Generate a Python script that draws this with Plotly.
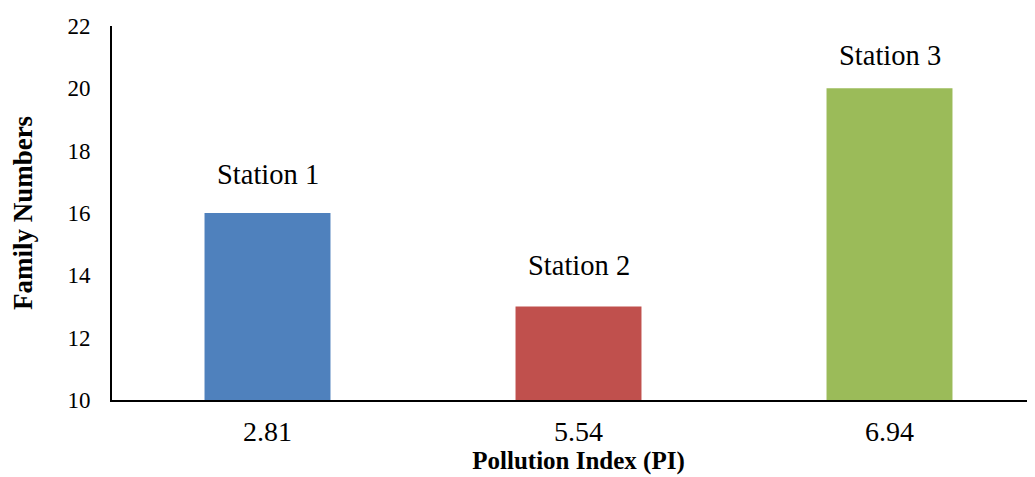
import plotly.graph_objects as go

categories = ["2.81", "5.54", "6.94"]
values = [16, 13, 20]
stations = ["Station 1", "Station 2", "Station 3"]
colors = ["#4F81BD", "#C0504D", "#9BBB59"]

# label offsets above bars (pixels), as placed in the original chart
label_shifts = [21, 24, 15]

font_family = "Liberation Serif, Times New Roman, serif"

fig = go.Figure()
fig.add_trace(go.Bar(
    x=categories, y=values, marker=dict(color=colors, line=dict(width=0)),
    width=0.405, showlegend=False,
))

for i, (v, s, sh) in enumerate(zip(values, stations, label_shifts)):
    fig.add_annotation(x=i, y=v, text=s, showarrow=False, yanchor="bottom",
                       yshift=sh, font=dict(family=font_family, size=28.5, color="black"))

fig.update_layout(
    width=1037, height=469,
    margin=dict(l=104, r=0, t=18, b=77),
    paper_bgcolor="white", plot_bgcolor="white",
    font=dict(family=font_family, color="black"),
    xaxis=dict(
        type="category", range=[-0.5, 2.5], showline=True, linecolor="black", linewidth=2,
        ticks="", tickfont=dict(size=28), ticklabelstandoff=5, automargin=False,
        title=dict(text="<b>Pollution Index (PI)</b>", font=dict(size=25), standoff=2),
        showgrid=False, zeroline=False,
    ),
    yaxis=dict(
        range=[10, 22], tickvals=[10, 12, 14, 16, 18, 20, 22],
        showline=True, linecolor="black", linewidth=2,
        ticks="", tickfont=dict(size=23), ticklabelstandoff=15, automargin=False,
        title=dict(text="<b>Family Numbers</b>", font=dict(size=27), standoff=31),
        showgrid=False, zeroline=False,
    ),
)

fig.write_html("out.html")
